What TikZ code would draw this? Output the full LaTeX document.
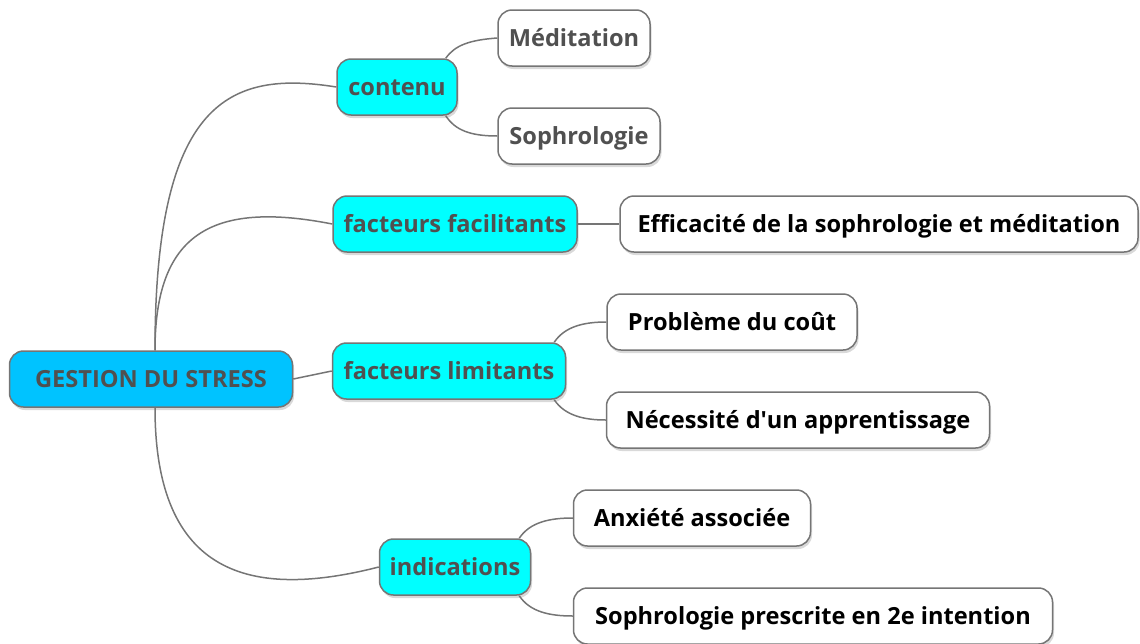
\documentclass[tikz,border=0pt]{standalone}
\usepackage{fontspec}
\setmainfont{Open Sans}
\usetikzlibrary{positioning,shadows}
\definecolor{rootblue}{HTML}{00C3FF}
\definecolor{branchcyan}{HTML}{00FFFF}
\definecolor{textgrey}{HTML}{505050}
\definecolor{edgegrey}{HTML}{757575}
\tikzstyle{topic} = [draw=edgegrey, line width=1.5pt, rounded corners=14pt, minimum height=56pt, inner xsep=0pt,
    text height=21pt, text depth=4pt,
    font=\bfseries\fontsize{23.6}{28}\selectfont,
    drop shadow={shadow xshift=1.5pt, shadow yshift=-3pt, opacity=0.3}]
\tikzstyle{root} = [topic, fill=rootblue, text=textgrey]
\tikzstyle{branch} = [topic, fill=branchcyan, text=textgrey]
\tikzstyle{leaf} = [topic, fill=white, text=black]
\tikzstyle{link} = [draw=edgegrey, line width=1.5pt]

\begin{document}
\begin{tikzpicture}[x=1pt, y=-1pt, node distance=5em]
        \useasboundingbox (0,0) rectangle (1140,643);

        \node [root, minimum width=283pt] (stress) at (151,379) {GESTION DU STRESS};

        % branches
        \node [branch, minimum width=120pt] (contenu) at (397,87) {contenu};
        \node [branch, minimum width=244pt] (facil) at (455,224) {facteurs facilitants};
        \node [branch, minimum width=233pt] (limit) at (449,371) {facteurs limitants};
        \node [branch, minimum width=151pt] (indic) at (455,567) {indications};

        % leaves
        \node [leaf, text=textgrey, minimum width=152pt] (medit) at (574,38) {Méditation};
        \node [leaf, text=textgrey, minimum width=162pt] (sophro) at (579,136) {Sophrologie};
        \node [leaf, right of=facil, node distance=424pt, minimum width=518pt] (effic) {Efficacité de la sophrologie et méditation};
        \node [leaf, minimum width=250pt] (cout) at (732,322) {Problème du coût};
        \node [leaf, minimum width=383pt] (appr) at (798,420) {Nécessité d\textquotesingle un apprentissage};
        \node [leaf, minimum width=237pt] (anx) at (692,518) {Anxiété associée};
        \node [leaf, minimum width=479pt] (presc) at (813,616) {Sophrologie prescrite en 2e intention};

        \draw [link] ([xshift=4pt]stress.north) .. controls (155,100) and (230,70) .. (contenu.west);
        \draw [link] ([xshift=4pt]stress.north) .. controls (155,235) and (210,200) .. (facil.west);
        \draw [link] (stress.east) -- (limit.west);
        \draw [link] ([xshift=4pt]stress.south) .. controls (155,575) and (250,600) .. (indic.west);

        \draw [link] ([xshift=-12pt]contenu.north east) .. controls (455,45) and (470,40) .. (medit.west);
        \draw [link] ([xshift=-12pt]contenu.south east) .. controls (455,130) and (470,136) .. (sophro.west);
        \draw [link] (facil) -- (effic);
        \draw [link] ([xshift=-12pt]limit.north east) .. controls (565,326) and (585,322) .. (cout.west);
        \draw [link] ([xshift=-12pt]limit.south east) .. controls (565,416) and (585,420) .. (appr.west);
        \draw [link] ([xshift=-12pt]indic.north east) .. controls (530,522) and (550,518) .. (anx.west);
        \draw [link] ([xshift=-12pt]indic.south east) .. controls (530,612) and (550,616) .. (presc.west);
\end{tikzpicture}
\end{document}
